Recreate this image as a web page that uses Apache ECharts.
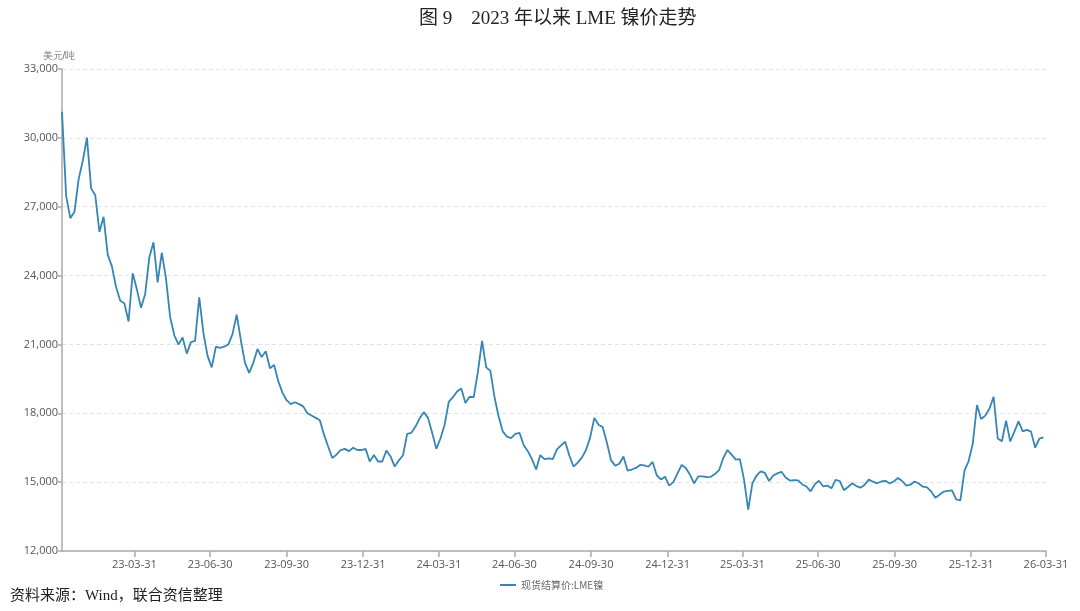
<!DOCTYPE html>
<html>
<head>
<meta charset="utf-8">
<title>2023年以来LME镍价走势</title>
<script src="https://cdn.jsdelivr.net/npm/echarts@6/dist/echarts.min.js"></script>
<style>
  html, body { margin: 0; padding: 0; background: #fff; }
  #main { width: 1080px; height: 611px; }
</style>
</head>
<body>
<div id="main"></div>
<script>
// 现货结算价:LME镍（美元/吨），从2023-01-03起每5天一个点，数值读自原图
var startDate = [2023, 0, 3];
var stepDays = 5;
var nickel = [
  // 2023 Q1
  31140, 27460, 26500, 26780, 28200, 29000, 30010, 27800, 27500, 25900,
  26560, 24900, 24400, 23500, 22900, 22790, 22000, 24100,
  // 2023 Q2
  23400, 22600, 23200, 24800, 25450, 23700, 25000, 23880, 22200, 21400,
  21000, 21300, 20600, 21100, 21150, 23050, 21500, 20500,
  // 2023 Q3
  20000, 20900, 20850, 20900, 21000, 21450, 22300, 21190, 20200, 19760,
  20200, 20800, 20450, 20700, 19960, 20100, 19400, 18900,
  // 2023 Q4
  18570, 18400, 18480, 18400, 18300, 18000, 17900, 17800, 17700, 17070,
  16550, 16050, 16200, 16400, 16450, 16350, 16500, 16400,
  // 2024 Q1
  16400, 16450, 15900, 16180, 15900, 15900, 16380, 16120, 15680, 15950,
  16170, 17100, 17150, 17420, 17780, 18050, 17800, 17150,
  // 2024 Q2
  16450, 16900, 17500, 18500, 18700, 18950, 19080, 18450, 18720, 18700,
  19800, 21150, 20000, 19850, 18700, 17850, 17200, 16980,
  // 2024 Q3
  16920, 17100, 17150, 16620, 16350, 16000, 15550, 16180, 16000, 16040,
  16000, 16430, 16600, 16760, 16150, 15680, 15850, 16070, 16400,
  // 2024 Q4
  16950, 17800, 17500, 17400, 16740, 15960, 15720, 15800, 16120, 15500,
  15550, 15620, 15750, 15730, 15670, 15880, 15300, 15120,
  // 2025 Q1
  15240, 14850, 15000, 15380, 15750, 15620, 15320, 14950, 15250, 15250,
  15220, 15230, 15350, 15520, 16050, 16400, 16200, 15980,
  // 2025 Q2
  16000, 15100, 13800, 14950, 15280, 15470, 15400, 15050, 15290, 15380,
  15450, 15200, 15070, 15090, 15080, 14900, 14810, 14600,
  // 2025 Q3
  14900, 15060, 14820, 14850, 14730, 15100, 15050, 14650, 14790, 14950,
  14830, 14760, 14890, 15110, 15020, 14950, 15030, 15060,
  // 2025 Q4
  14940, 15030, 15180, 15050, 14850, 14890, 15030, 14940, 14800, 14770,
  14590, 14320, 14450, 14590, 14620, 14640, 14250, 14200,
  // 2026 Q1
  15500, 15920, 16680, 18360, 17750, 17900, 18200, 18720, 16900, 16780,
  17680, 16770, 17200, 17650, 17210, 17280, 17200, 16500, 16900, 16950
];
var quarterEnds = [
  '2023-03-31', '2023-06-30', '2023-09-30', '2023-12-31',
  '2024-03-31', '2024-06-30', '2024-09-30', '2024-12-31',
  '2025-03-31', '2025-06-30', '2025-09-30', '2025-12-31',
  '2026-03-31'
];
var axisStart = '2023-01-03';
var axisEnd = '2026-03-31';

function toTime(s) {
  var p = s.split('-');
  return new Date(+p[0], +p[1] - 1, +p[2]).getTime();
}
function pad(n) { return (n < 10 ? '0' : '') + n; }

var seriesData = nickel.map(function (v, i) {
  var d = new Date(startDate[0], startDate[1], startDate[2] + i * stepDays);
  return [d.getTime(), v];
});
var tickTimes = quarterEnds.map(toTime);

var myChart = echarts.init(document.getElementById('main'));
myChart.setOption({
  animation: false,
  title: {
    text: '图 9    2023 年以来 LME 镍价走势',
    left: 414,
    top: 5,
    textStyle: {
      fontFamily: '"Liberation Serif", "Noto Sans CJK SC", serif',
      fontSize: 19,
      fontWeight: 'normal',
      color: '#222'
    }
  },
  graphic: [{
    type: 'text',
    left: 10,
    top: 589,
    style: {
      text: '资料来源：Wind，联合资信整理',
      font: '15px "Liberation Serif", "Noto Sans CJK SC", serif',
      fill: '#222'
    }
  }],
  legend: {
    data: ['现货结算价:LME镍'],
    left: 495,
    top: 575,
    icon: 'rect',
    itemWidth: 16,
    itemHeight: 2,
    itemGap: 4,
    textStyle: { fontSize: 10, color: '#666', fontFamily: '"Noto Sans CJK SC", sans-serif' }
  },
  grid: { left: 62, right: 34, top: 69, bottom: 60, containLabel: false },
  xAxis: {
    // 日期以时间戳放在数值轴上，刻度只取季末
    type: 'value',
    min: toTime(axisStart),
    max: toTime(axisEnd),
    axisLine: { lineStyle: { color: '#aaa', width: 1.5 } },
    axisTick: { show: true, length: 6, customValues: tickTimes, lineStyle: { color: '#aaa', width: 1.5 } },
    axisLabel: {
      customValues: tickTimes,
      color: '#555',
      fontSize: 11,
      margin: 8,
      fontFamily: '"Open Sans", "Noto Sans", sans-serif',
      formatter: function (val) {
        var d = new Date(val);
        return pad(d.getFullYear() % 100) + '-' + pad(d.getMonth() + 1) + '-' + pad(d.getDate());
      }
    },
    splitLine: { show: false }
  },
  yAxis: {
    type: 'value',
    name: '美元/吨',
    nameGap: 8,
    nameTextStyle: { color: '#777', fontSize: 10, align: 'center', padding: [0, 0, 0, -6] },
    min: 12000,
    max: 33000,
    interval: 3000,
    axisLine: { show: true, lineStyle: { color: '#aaa', width: 1.5 } },
    axisTick: { show: true, length: 4, lineStyle: { color: '#aaa', width: 1.5 } },
    axisLabel: {
      color: '#555',
      fontSize: 11,
      margin: 4,
      fontFamily: '"Open Sans", "Noto Sans", sans-serif',
      formatter: function (v) { return v.toLocaleString('en-US'); }
    },
    splitLine: { show: true, lineStyle: { color: '#e2e2e2', type: [4, 3] } }
  },
  series: [{
    name: '现货结算价:LME镍',
    type: 'line',
    data: seriesData,
    showSymbol: false,
    color: '#3586b4',
    lineStyle: { width: 1.8, color: '#3586b4' }
  }]
});
</script>
</body>
</html>
